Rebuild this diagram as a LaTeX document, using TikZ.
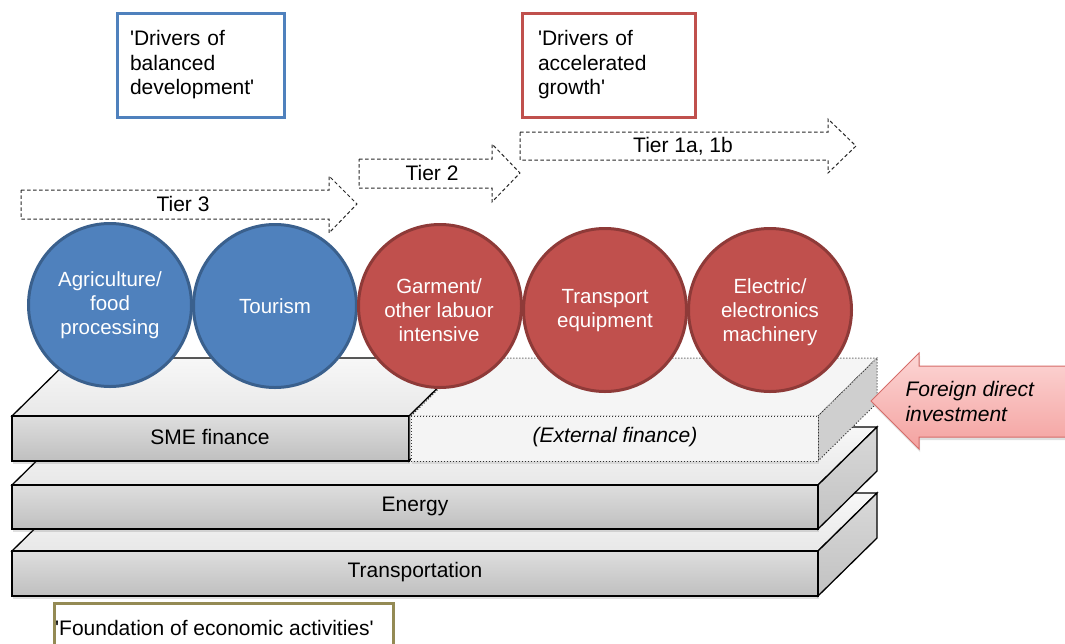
\documentclass[tikz,border=0pt]{standalone}
\usepackage{fontspec}
\setmainfont{Liberation Sans}
\usetikzlibrary{shadows}

\definecolor{blueFill}{RGB}{79,129,189}
\definecolor{blueEdge}{RGB}{58,96,141}
\definecolor{redFill}{RGB}{192,80,77}
\definecolor{redEdge}{RGB}{142,58,56}
\definecolor{oliveEdge}{RGB}{148,138,84}
\definecolor{tierGray}{RGB}{40,40,40}
\newcommand{\sq}{\textquotesingle}

\tikzset{
  sector/.style={circle, minimum size=163pt, inner sep=0pt, line width=3pt},
  bluesector/.style={sector, fill=blueFill, draw=blueEdge},
  redsector/.style={sector, fill=redFill, draw=redEdge},
  sectortext/.style={text=white, align=center, font=\fontsize{20.5}{24}\selectfont},
  infobox/.style={draw=#1, line width=3pt, fill=white, align=left,
    minimum height=104pt, inner sep=0pt},
  tierarrow/.style={draw=tierGray, fill=white, line width=1pt,
    dash pattern=on 3.5pt off 2.5pt},
  frontface/.style={draw=black, line width=1.3pt, top color=gray!26, bottom color=gray!50,
    drop shadow={opacity=0.25, shadow xshift=1pt, shadow yshift=-3pt}},
  topface/.style={draw=black, line width=1.3pt, top color=gray!6, bottom color=gray!18},
  sideface/.style={draw=black, line width=1.3pt, top color=gray!30, bottom color=gray!48},
  extface/.style={draw=black!80, line width=1pt, dotted},
  slabtext/.style={font=\fontsize{21}{25}\selectfont},
}

\begin{document}
\begin{tikzpicture}[x=1pt, y=-1pt, font=\fontsize{21}{24.5}\selectfont]
\useasboundingbox (0,0) rectangle (1065,643);
\clip (0,0) rectangle (1065,643);

% ---- bottom layer: transportation
\path[topface] (12,551) -- (71,493) -- (877,493) -- (818,551) -- cycle;
\path[sideface] (818,551) -- (877,493) -- (877,538) -- (818,596) -- cycle;
\path[frontface] (12,551) rectangle (818,596);
\node[slabtext] (transp) at (415,572) {Transportation};

% ---- middle layer: energy
\path[topface] (12,485) -- (71,427) -- (877,427) -- (818,485) -- cycle;
\path[sideface] (818,485) -- (877,427) -- (877,471) -- (818,529) -- cycle;
\path[frontface] (12,485) rectangle (818,529);
\node[slabtext] (energy) at (415,506) {Energy};

% ---- top layer: SME finance and external finance
\path[topface] (12,416) -- (71,358) -- (470,358) -- (411,416) -- cycle;
\path[frontface] (12,416) rectangle (409,461);
\path[fill=gray!40, draw=black, line width=1.3pt] (409,416) -- (468,358) -- (468,403) -- (409,461) -- cycle;
\node[slabtext] (sme) at (210,437) {SME finance};

\path[extface, fill=gray!8] (411,416) -- (470,358) -- (877,358) -- (818,416) -- cycle;
\path[extface, fill=gray!38] (818,416) -- (877,358) -- (877,403) -- (818,461) -- cycle;
\path[extface, fill=gray!9, drop shadow={opacity=0.2, shadow xshift=1pt, shadow yshift=-3pt}]
  (411,416) rectangle (818,461);
\node[slabtext, font=\fontsize{21}{25}\selectfont\itshape] (ext) at (615,437) {(External finance)};

% ---- sectors
\node[bluesector] (agri) at (110,305) {};
\node[bluesector] (tour) at (275,306) {};
\node[redsector] (garm) at (440,306) {};
\node[redsector] (trans) at (605,310) {};
\node[redsector] (elec) at (770,310) {};
\node[sectortext] (agriT) at (110,305) {Agriculture/\\food\\processing};
\node[sectortext] (tourT) at (275,306) {Tourism};
\node[sectortext] (garmT) at (439,310) {Garment/\\other labuor\\intensive};
\node[sectortext] (transT) at (605,311) {Transport\\equipment};
\node[sectortext] (elecT) at (770,312) {Electric/\\electronics\\machinery};

% ---- tiers
\path[tierarrow] (21,190) -- (329,190) -- (329,176) -- (357,204) -- (329,233) -- (329,219) -- (21,219) -- cycle;
\node (t3) at (183,204) {Tier 3};
\path[tierarrow] (359,159) -- (492,159) -- (492,144) -- (520,173) -- (492,202) -- (492,188) -- (359,188) -- cycle;
\node (t2) at (432,173) {Tier 2};
\path[tierarrow] (520,132) -- (828,132) -- (828,119) -- (856,146) -- (828,173) -- (828,160) -- (520,160) -- cycle;
\node (t1) at (683,146) {Tier 1a, 1b};

% ---- drivers
\node[infobox=blueFill, minimum width=167pt, text width=141pt] (balanced) at (200.5,65)
  {\sq Drivers of\\balanced\\development\sq};
\node[infobox=redFill, minimum width=173pt, text width=141pt] (accel) at (608.5,65)
  {\sq Drivers of\\accelerated\\growth\sq};

% ---- foreign direct investment
\path[draw={rgb,255:red,214;green,108;blue,105}, line width=1pt,
  top color={rgb,255:red,252;green,214;blue,213}, bottom color={rgb,255:red,244;green,162;blue,160},
  drop shadow={opacity=0.25, shadow xshift=1pt, shadow yshift=-3pt}]
  (871,401) -- (919,353) -- (919,366) -- (1075,366) -- (1075,437) -- (919,437) -- (919,449) -- cycle;
\node[anchor=west, align=left, font=\fontsize{21}{25}\selectfont\itshape] (fdi) at (902,401)
  {Foreign direct\\investment};

% ---- foundation
\draw[draw=oliveEdge, line width=3pt, fill=white] (54,603) rectangle (393,680);
\node[anchor=west, inner sep=0pt] (found) at (55,628) {\sq Foundation of economic activities\sq};
\end{tikzpicture}
\end{document}
